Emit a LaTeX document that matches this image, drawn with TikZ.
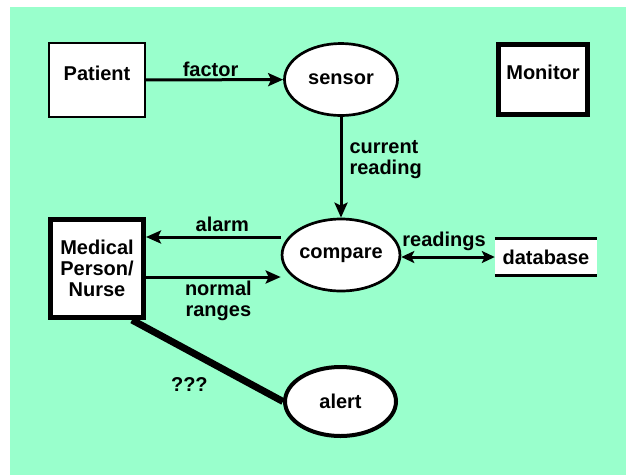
\documentclass[tikz,border=0pt]{standalone}
\usepackage{fontspec}
\setmainfont{Liberation Sans}
\usetikzlibrary{arrows.meta,shapes.geometric}
\definecolor{mint}{RGB}{153,255,204}

\begin{document}
\begin{tikzpicture}[x=1pt, y=-1pt, line join=miter,
  every node/.style={font=\fontsize{20}{21}\selectfont\bfseries},
  entity/.style={draw, fill=white, rectangle, inner sep=0pt},
  process/.style={draw, fill=white, ellipse, inner sep=0pt, line width=2.7pt,
    minimum width=113pt, minimum height=72pt},
  flow/.style={line width=3pt, -{Stealth[length=15pt,width=13pt,inset=3pt]}},
  twoway/.style={line width=3pt,
    {Stealth[length=13pt,width=12pt,inset=3pt]}-{Stealth[length=13pt,width=12pt,inset=3pt]}},
  lbl/.style={inner sep=2pt}]

\useasboundingbox (0,0) rectangle (626,475);
\fill[mint] (10,7) rectangle (626,475);

% external entities
\node[entity, line width=2pt, minimum width=96pt, minimum height=74pt, text depth=14pt] (patient) at (97,80) {Patient};
\node[entity, line width=5pt, minimum width=89pt, minimum height=70pt, text depth=14pt] (monitor) at (543,79.5) {Monitor};
\node[entity, line width=5pt, minimum width=93pt, minimum height=98pt, align=center] (medical) at (97,268.5) {Medical\\Person/\\Nurse};

% processes
\node[process] (sensor) at (341,79.5) {sensor};
\node[process] (compare) at (341,255) {compare};
\node[process, line width=4pt, minimum width=111pt, minimum height=69pt] (alert) at (340.5,401.5) {alert};

% data store
\node[fill=white, minimum width=102pt, minimum height=37pt, inner sep=0pt] (database) at (546,257) {database};
\draw[line width=3pt] (database.north west) -- (database.north east)
  (database.south west) -- (database.south east);

% flows
\draw[flow] (patient) -- node[lbl, above, xshift=-4pt] {factor} (sensor);
\draw[flow] (sensor) -- node[lbl, right, pos=0.42, align=left, inner sep=4pt, xshift=3pt] {current\\reading} (compare);
\draw[flow] ([yshift=18pt]compare.west) -- node[lbl, above=2pt, xshift=9pt] {alarm} ([yshift=18pt]compare.west -| medical.east);
\draw[flow] ([yshift=-22pt]compare.west -| medical.east) -- node[lbl, below, align=center, xshift=5pt] {normal\\ranges} ([yshift=-22pt]compare.west);
\draw[twoway] (compare.east |- database.west) -- node[above=5pt, inner sep=0pt, xshift=-4pt] {readings} (database.west);

% open question
\draw[line width=7pt] ([xshift=35pt]medical.south) -- node[pos=0.38, below=20pt] {???} (alert.west);
\end{tikzpicture}
\end{document}
